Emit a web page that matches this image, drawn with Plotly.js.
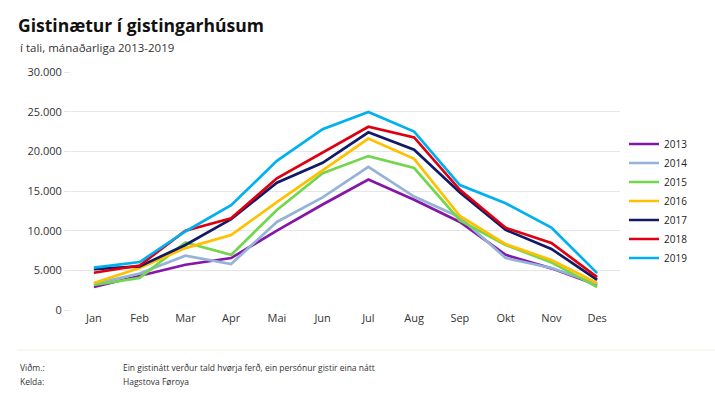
<!DOCTYPE html>
<html><head><meta charset="utf-8">
<script src="https://cdn.plot.ly/plotly-3.0.1.min.js"></script>
<style>html,body{margin:0;padding:0;background:#fff}#chart{width:715px;height:398px}</style>
</head><body><div id="chart"></div>
<script>
const months = ['Jan','Feb','Mar','Apr','Mai','Jun','Jul','Aug','Sep','Okt','Nov','Des'];
const years = ['2013','2014','2015','2016','2017','2018','2019'];
const v2013 = [2900, 4300, 5700, 6550, 10000, 13300, 16450, 13900, 11100, 6950, 5250, 3150];
const v2014 = [3300, 4600, 6850, 5800, 11100, 14200, 18050, 14300, 11700, 6550, 5300, 3300];
const v2015 = [3150, 4050, 8500, 6950, 12600, 17250, 19400, 17900, 11300, 8200, 6000, 2900];
const v2016 = [3400, 5300, 7800, 9450, 13600, 17600, 21600, 19050, 11850, 8300, 6300, 3400];
const v2017 = [5150, 5500, 8200, 11450, 16050, 18550, 22400, 20200, 14800, 10100, 7700, 3800];
const v2018 = [4700, 5600, 10000, 11550, 16600, 19850, 23100, 21750, 15150, 10350, 8450, 4150];
const v2019 = [5350, 6050, 9900, 13200, 18800, 22800, 24950, 22500, 15750, 13450, 10400, 4650];
const series = [v2013, v2014, v2015, v2016, v2017, v2018, v2019];
const colors = ['#8516a8','#95b3d7','#72d64e','#ffc000','#101a66','#dd0010','#00b0f0'];
const yTicks = [0, 5000, 10000, 15000, 20000, 25000, 30000];

const traces = series.map((s, i) => ({
  type: 'scatter', mode: 'lines', name: years[i], x: months, y: s,
  line: {color: colors[i], width: 2.7},
  hoverinfo: 'x+y+name'
}));

const L = 71, R = 620, T = 72, B = 310, W = 715, H = 398;
const px = x => (x - L) / (R - L);
const py = y => (B - y) / (B - T);
const font = 'Open Sans, sans-serif';

const layout = {
  width: W, height: H,
  margin: {l: L, r: W - R, t: T, b: H - B, pad: 0},
  paper_bgcolor: '#fff', plot_bgcolor: '#fff',
  separators: ',.',
  font: {family: font, color: '#333', size: 11},
  title: {text: '<b>Gistinætur í gistingarhúsum</b>', x: 18 / W, xanchor: 'left', xref: 'container',
          y: 1 - 26 / H, yanchor: 'middle', yref: 'container',
          font: {family: font, size: 17.5, color: '#111'}},
  xaxis: {type: 'category', range: [-0.5, 11.5], showgrid: false, zeroline: false, showline: false,
          ticks: '', tickfont: {size: 11, color: '#333'}, fixedrange: true},
  yaxis: {range: [0, 30000], tickvals: yTicks, tickformat: ',d', showgrid: true, gridcolor: '#e6e6e6',
          gridwidth: 1, zeroline: false, showline: false, ticks: 'outside', ticklen: 6, tickcolor: '#e6e6e6',
          tickfont: {size: 11, color: '#333'}, fixedrange: true},
  legend: {x: px(624), xanchor: 'left', y: py(201), yanchor: 'middle', font: {size: 10, color: '#222'},
           itemwidth: 30, tracegroupgap: 0, bgcolor: 'rgba(0,0,0,0)'},
  showlegend: true,
  annotations: [
    {text: 'í tali, mánaðarliga 2013-2019', xref: 'paper', yref: 'paper', x: px(18), y: py(48),
     xanchor: 'left', yanchor: 'middle', showarrow: false, font: {size: 11.5, color: '#333'}},
    {text: 'Viðm.:', xref: 'paper', yref: 'paper', x: px(18), y: py(367),
     xanchor: 'left', yanchor: 'middle', showarrow: false, font: {size: 8.5, color: '#333'}},
    {text: 'Ein gistinátt verður tald hvørja ferð, ein persónur gistir eina nátt', xref: 'paper', yref: 'paper',
     x: px(121), y: py(367), xanchor: 'left', yanchor: 'middle', showarrow: false, font: {size: 8.5, color: '#333'}},
    {text: 'Kelda:', xref: 'paper', yref: 'paper', x: px(18), y: py(381),
     xanchor: 'left', yanchor: 'middle', showarrow: false, font: {size: 8.5, color: '#333'}},
    {text: 'Hagstova Føroya', xref: 'paper', yref: 'paper', x: px(121), y: py(381),
     xanchor: 'left', yanchor: 'middle', showarrow: false, font: {size: 8.5, color: '#333'}}
  ],
  shapes: [
    {type: 'line', xref: 'paper', yref: 'paper', x0: px(17), x1: px(715), y0: py(350), y1: py(350),
     line: {color: '#f0f0e4', width: 1}}
  ]
};

Plotly.newPlot('chart', traces, layout, {displayModeBar: false, staticPlot: true});
</script></body></html>
